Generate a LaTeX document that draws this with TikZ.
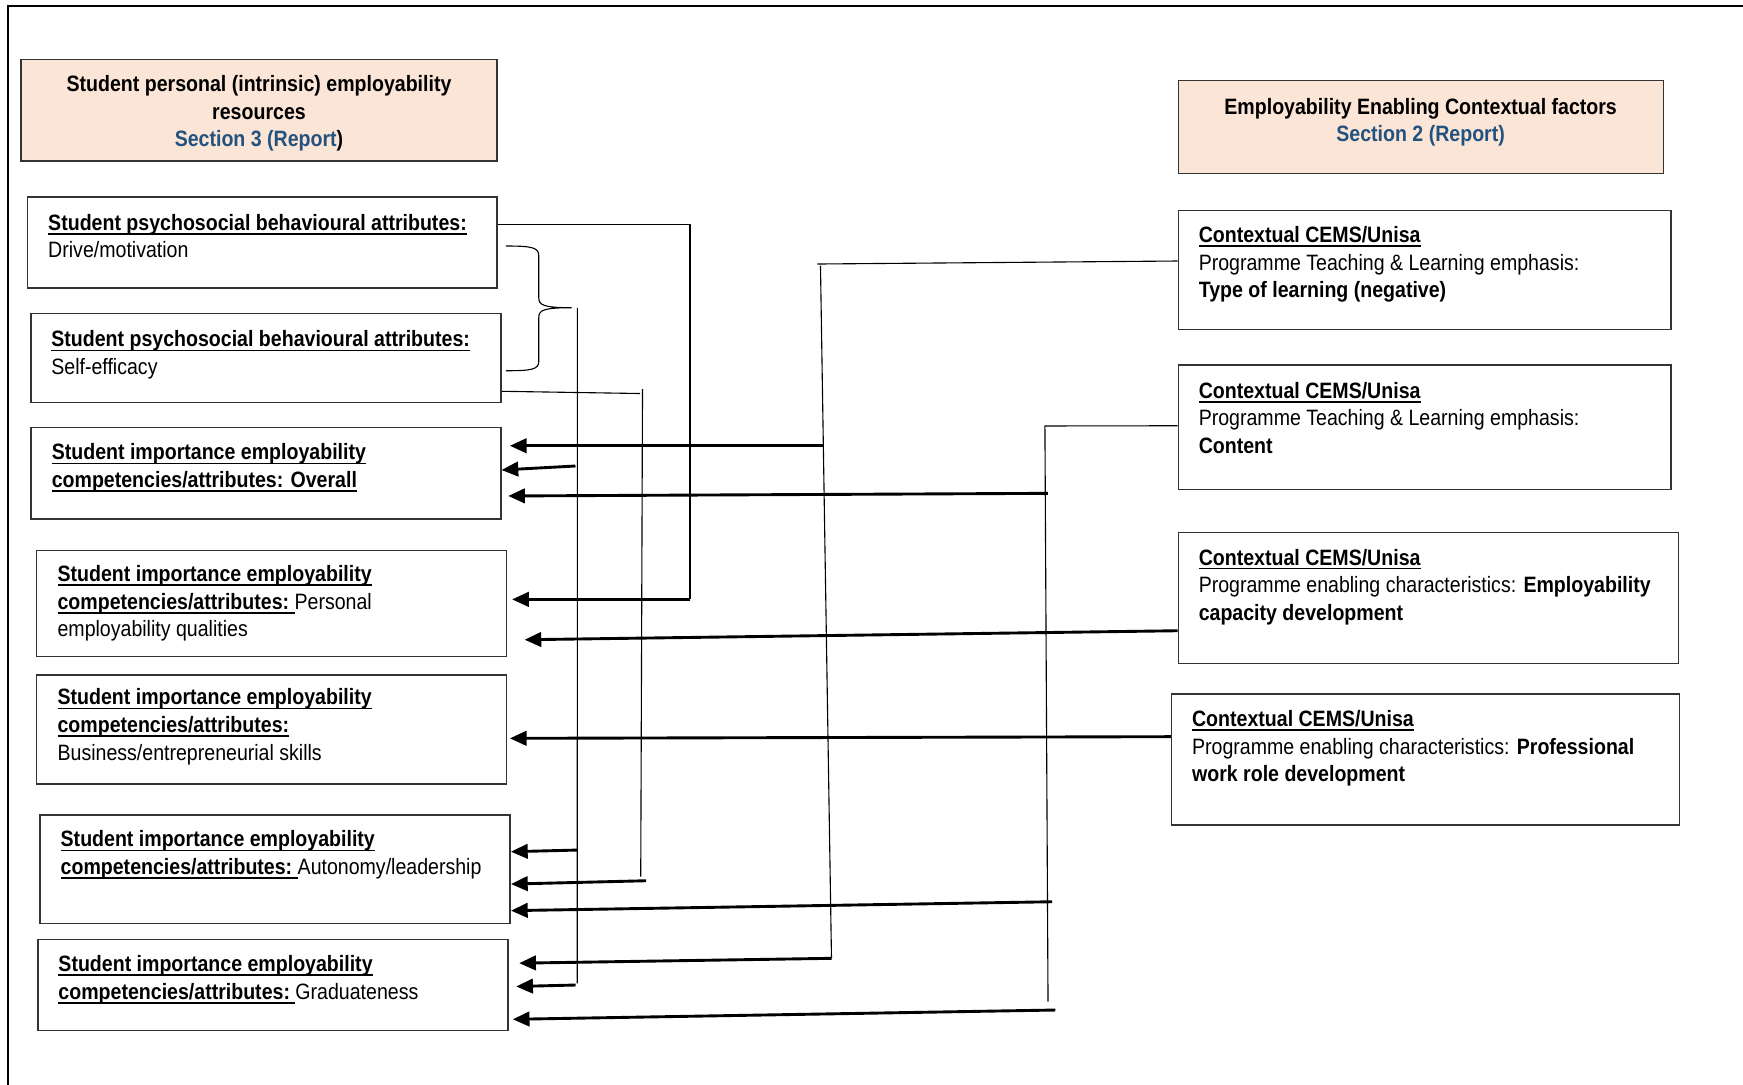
\documentclass[tikz,border=0pt]{standalone}
\usepackage{fontspec}
\setmainfont{Liberation Sans}[FakeStretch=0.88]
\usetikzlibrary{arrows.meta,fit}

\definecolor{peach}{HTML}{FBE5D6}
\definecolor{secblue}{HTML}{24527F}
\definecolor{edge}{HTML}{333333}

% underline sitting just under the baseline
\newcommand{\uln}[1]{\setbox0\hbox{#1}\rlap{\rule[-2pt]{\wd0}{0.75pt}}\box0}
\newcommand{\leftlines}[1]{\begin{tabular}[t]{@{}l@{}}#1\end{tabular}}
\newcommand{\midlines}[1]{\begin{tabular}[t]{@{}c@{}}#1\end{tabular}}

\tikzset{
  box/.style={draw=edge, line width=0.7pt, inner sep=0pt},
  head/.style={box, fill=peach},
  txt/.style={inner sep=0pt, anchor=base west, font=\fontsize{10}{12.4}\selectfont},
  ctxt/.style={txt, anchor=base},
  wire/.style={line width=0.5pt},
  arr/.style={line width=1.3pt, -{Triangle[length=7.5pt,width=6.5pt]}},
  frame/.style={line width=1pt}
}

\begin{document}
\begin{tikzpicture}[x=0.5pt,y=-0.5pt]
\useasboundingbox (0,0) rectangle (1568,976);
\fill[white] (0,0) rectangle (1568,976);

% outer frame
\draw[frame] (7,976) -- (7,5.5) -- (1568,5.5);

% heading boxes
\node[head, fit={(19,53.4) (447,145)}] (hl) {};
\node[ctxt] (hlt) at (233,82.5) {\midlines{\textbf{Student personal (intrinsic) employability}\\\textbf{resources}\\\textbf{\textcolor{secblue}{Section 3 (Report})}}};

\node[head, fit={(1060,72.6) (1496.6,155.9)}] (hr) {};
\node[ctxt] (hrt) at (1278,102.6) {\midlines{\textbf{Employability Enabling Contextual factors}\\\textbf{\textcolor{secblue}{Section 2 (Report)}}}};

% left column
\node[box, fit={(24.8,177) (447,259)}] (A) {};
\node[txt] (At) at (43,207) {\leftlines{\textbf{\uln{Student psychosocial behavioural attributes:}}\\Drive/motivation}};

\node[box, fit={(28,282) (450.8,362)}] (B) {};
\node[txt] (Bt) at (45.8,312) {\leftlines{\textbf{\uln{Student psychosocial behavioural attributes:}}\\Self-efficacy}};

\node[box, fit={(28,384.4) (450.5,467)}] (C) {};
\node[txt] (Ct) at (46.2,413.8) {\leftlines{\textbf{\uln{Student importance employability}}\\\textbf{\uln{competencies/attributes: Overall}}}};

\node[box, fit={(33,495.4) (455.8,590.7)}] (D) {};
\node[txt] (Dt) at (51.4,523.3) {\leftlines{\textbf{\uln{Student importance employability}}\\\textbf{\uln{competencies/attributes:\ }}Personal\\employability qualities}};

\node[box, fit={(33,607.2) (455.8,705.3)}] (E) {};
\node[txt] (Et) at (51.4,634.2) {\leftlines{\textbf{\uln{Student importance employability}}\\\textbf{\uln{competencies/attributes:}}\\Business/entrepreneurial skills}};

\node[box, fit={(36,733) (459,830.6)}] (F) {};
\node[txt] (Ft) at (54.2,761.7) {\leftlines{\textbf{\uln{Student importance employability}}\\\textbf{\uln{competencies/attributes:\ }}Autonomy/leadership}};

\node[box, fit={(34,845) (457,927.2)}] (G) {};
\node[txt] (Gt) at (52.2,874) {\leftlines{\textbf{\uln{Student importance employability}}\\\textbf{\uln{competencies/attributes:\ }}Graduateness}};

% right column
\node[box, fit={(1060,189.5) (1503.4,296.3)}] (R1) {};
\node[txt] (R1t) at (1078,218.3) {\leftlines{\textbf{\uln{Contextual CEMS/Unisa}}\\Programme Teaching \& Learning emphasis:\\\textbf{Type of learning (negative)}}};

\node[box, fit={(1060,328.4) (1503.4,440.2)}] (R2) {};
\node[txt] (R2t) at (1078,358.4) {\leftlines{\textbf{\uln{Contextual CEMS/Unisa}}\\Programme Teaching \& Learning emphasis:\\\textbf{Content}}};

\node[box, fit={(1060,479.2) (1510,596.7)}] (R3) {};
\node[txt] (R3t) at (1078,508.3) {\leftlines{\textbf{\uln{Contextual CEMS/Unisa}}\\Programme enabling characteristics: \textbf{Employability}\\\textbf{capacity development}}};

\node[box, fit={(1054,624.3) (1511,742.2)}] (R4) {};
\node[txt] (R4t) at (1072,653.7) {\leftlines{\textbf{\uln{Contextual CEMS/Unisa}}\\Programme enabling characteristics: \textbf{Professional}\\\textbf{work role development}}};

% drive/motivation -> personal qualities
\coordinate (a1) at (620.7,201.8);
\coordinate (a2) at (620.7,539.2);
\draw[wire] (A.east |- a1) -- (a1) -- (a2);
\draw[arr, shorten >=2.1pt] (a2) -- (D.east |- a2);

% brace joining the two psychosocial attributes
\draw[wire] (455,221.3) .. controls (478,221.3) and (484.7,222.5) .. (484.7,230)
  -- (484.7,268) .. controls (484.7,274.5) and (489,276.8) .. (514.3,276.8)
  .. controls (489,276.8) and (484.7,279) .. (484.7,285.5)
  -- (484.7,325) .. controls (484.7,332.5) and (478,333.5) .. (455,333.5);

% trunk from the brace
\coordinate (t0) at (519.4,277);
\coordinate (t1) at (519.3,884.6);
\coordinate (t2) at (517.7,419.2);
\coordinate (t3) at (519.3,764.7);
\coordinate (t4) at (517.8,886.1);
\draw[wire] (t0) -- (t1);
\draw[arr] (t2) -- (C.east |- 0,422.8);
\draw[arr] (t3) -- (F.east |- 0,766.2);
\draw[arr, shorten >=3.35pt] (t4) -- (G.east |- 0,887.6);

% self-efficacy -> autonomy/leadership
\coordinate (b1) at (575.8,354);
\coordinate (b2) at (578,350);
\coordinate (b3) at (576.4,788.7);
\coordinate (b4) at (581.2,792.3);
\draw[wire] (B.east |- 0,352) -- (b1);
\draw[wire] (b2) -- (b3);
\draw[arr] (b4) -- (F.east |- 0,795.3);

% type of learning
\coordinate (c1) at (735.4,237.5);
\coordinate (c2) at (738.1,239);
\coordinate (c3) at (748,862.1);
\coordinate (c4) at (741.5,401);
\draw[wire] (R1.west |- 0,234.8) -- (c1);
\draw[wire] (c2) -- (c3);
\draw[arr, shorten >=3.75pt] (c4) -- (C.east |- c4);
\draw[arr, shorten >=4.7pt] (c3) -- (G.east |- 0,866.6);

% content
\coordinate (d1) at (940,383.2);
\coordinate (d2) at (942.8,901.1);
\coordinate (d3) at (942.6,443.8);
\coordinate (d4) at (946.4,811.2);
\coordinate (d5) at (949.4,908.6);
\draw[wire] (R2.west |- 0,383) -- (d1) -- (d2);
\draw[arr, shorten >=3pt] (d3) -- (C.east |- 0,446.2);
\draw[arr] (d4) -- (F.east |- 0,819.2);
\draw[arr, shorten >=1.8pt] (d5) -- (G.east |- 0,917);

% enabling characteristics
\draw[arr, shorten >=7.7pt] (R3.west |- 0,567.4) -- (D.east |- 0,575.7);
\draw[arr, shorten >=1.1pt] (R4.west |- 0,662.7) -- (E.east |- 0,664.2);
\end{tikzpicture}
\end{document}
